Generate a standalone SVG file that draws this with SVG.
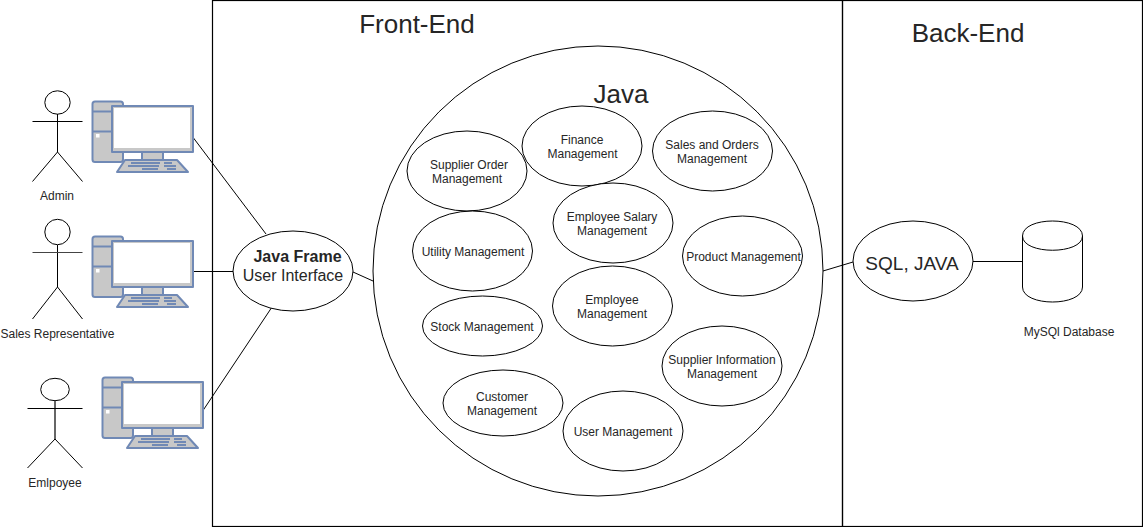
<svg xmlns="http://www.w3.org/2000/svg" width="1143" height="527" viewBox="0 0 1143 527">
<style>
text{font-family:"Liberation Sans",Arial,sans-serif;fill:#262626;text-anchor:middle}
.s{font-size:12px}
.m{font-size:16px}
.l{font-size:26px}
.e{fill:#fff;stroke:#000;stroke-width:1}
.c{fill:none;stroke:#000;stroke-width:1}
.f{fill:none;stroke:#000;stroke-width:1.200}
.pc{fill:#c8c8c8;stroke:#7089b5;stroke-width:2;stroke-linejoin:round}
.sc{fill:#fff}
.k{stroke:#7089b5;stroke-width:2;fill:none}
</style>
<defs>
<g id="pc">
<rect class="pc" x="1.500" y="1.500" width="30.500" height="60.500" rx="2.500"/>
<path class="k" d="M1.500 11.500H21M1.500 31.500H21"/>
<rect x="5" y="34" width="3.500" height="3.500" fill="#fff"/>
<rect class="pc" x="21" y="6" width="81" height="46"/>
<rect class="sc" x="23" y="8" width="76" height="40"/>
<rect class="pc" x="51" y="52" width="21" height="8"/>
<path class="pc" d="M34 60H86L97 72H26Z"/>
<path class="k" d="M40 63H69M73 63H81M37 66H68M73 66H85M51 69H67M76 69H85"/>
</g>
</defs>
<rect width="1143" height="527" fill="#fff"/>
<g id="frames">
<rect class="f" x="212.500" y="0.500" width="630" height="526"/>
<rect class="f" x="842.500" y="0.500" width="300" height="526"/>
<text class="l" x="417" y="33">Front-End</text>
<text class="l" x="968" y="42">Back-End</text>
</g>
<g id="connectors">
<path class="c" d="M192 136L266 234M192 271.500H233M272 307L202 412M353 272L373 281M823 271L853 262M973 261.500H1022"/>
</g>
<g id="java-circle">
<ellipse class="e" cx="598" cy="271" rx="225" ry="225"/>
<text x="621" y="103" font-size="26">Java</text>
</g>
<g id="admin">
<ellipse class="c" cx="57.500" cy="102.500" rx="12.700" ry="11.700"/>
<path class="c" d="M57.500 114V152M32.500 121.500H82.500M57.500 152L32.500 181.500M57.500 152L82.500 181.500"/>
<text class="s" x="57" y="200">Admin</text>
</g>
<g id="admin-pc"><use href="#pc" x="91" y="100"/></g>
<g id="sales">
<ellipse class="c" cx="57.500" cy="232" rx="12.700" ry="12.700"/>
<path class="c" d="M57.500 245V287M57.500 287L32.500 319M57.500 287L82.500 319"/>
<path d="M32.500 252.500H82.500" fill="none" stroke="#444" stroke-width="1.200"/>
<text class="s" x="57.500" y="338">Sales Representative</text>
</g>
<g id="sales-pc"><use href="#pc" x="91" y="235"/></g>
<g id="employee">
<ellipse class="c" cx="55" cy="389.500" rx="14.300" ry="11.200"/>
<path d="M55 401V439" fill="none" stroke="#666" stroke-width="2"/>
<path class="c" d="M27.500 408.500H82.500M55 439L27.500 468M55 439L82.500 468"/>
<text class="s" x="55" y="487">Emlpoyee</text>
</g>
<g id="employee-pc"><use href="#pc" x="101" y="376"/></g>
<g id="ui"><ellipse class="e" cx="293" cy="271" rx="60" ry="40"/><text class="m" x="297.500" y="262" font-weight="bold" font-size="15">Java Frame</text><text class="m" x="293" y="281">User Interface</text></g>
<g id="n1"><ellipse class="e" cx="467" cy="171" rx="60" ry="40"/><text class="s" x="469" y="169">Supplier Order</text><text class="s" x="467" y="183">Management</text></g>
<g id="n2"><ellipse class="e" cx="582" cy="146" rx="60" ry="40"/><text class="s" x="582" y="144">Finance</text><text class="s" x="582.500" y="158">Management</text></g>
<g id="n3"><ellipse class="e" cx="712.500" cy="151" rx="60" ry="40"/><text class="s" x="712" y="149">Sales and Orders</text><text class="s" x="712" y="163">Management</text></g>
<g id="n4"><ellipse class="e" cx="613" cy="223" rx="60" ry="40"/><text class="s" x="612" y="221">Employee Salary</text><text class="s" x="612" y="235">Management</text></g>
<g id="n5"><ellipse class="e" cx="472.500" cy="251" rx="60" ry="40"/><text class="s" x="473" y="256">Utility Management</text></g>
<g id="n6"><ellipse class="e" cx="742.500" cy="256" rx="60" ry="40"/><text class="s" x="743.500" y="261">Product Management</text></g>
<g id="n7"><ellipse class="e" cx="482.500" cy="326" rx="60" ry="30"/><text class="s" x="482" y="331">Stock Management</text></g>
<g id="n8"><ellipse class="e" cx="612.500" cy="306" rx="60" ry="40"/><text class="s" x="612" y="304">Employee</text><text class="s" x="612" y="318">Management</text></g>
<g id="n9"><ellipse class="e" cx="722" cy="366" rx="60" ry="40"/><text class="s" x="722" y="364">Supplier Information</text><text class="s" x="722" y="378">Management</text></g>
<g id="n10"><ellipse class="e" cx="503" cy="403" rx="60" ry="33"/><text class="s" x="502" y="401">Customer</text><text class="s" x="502" y="415">Management</text></g>
<g id="n11"><ellipse class="e" cx="623" cy="431" rx="60" ry="40"/><text class="s" x="623" y="436">User Management</text></g>
<g id="sql"><ellipse class="e" cx="913" cy="261" rx="60" ry="40"/><text x="912" y="270" font-size="19">SQL, JAVA</text></g>
<g id="db"><path class="e" d="M1022.500 236C1022.500 216 1082.500 216 1082.500 236V287C1082.500 307 1022.500 307 1022.500 287Z"/><path class="c" d="M1022.500 236C1022.500 255 1082.500 255 1082.500 236"/><text class="s" x="1069" y="336">MySQl Database</text></g>
</svg>
